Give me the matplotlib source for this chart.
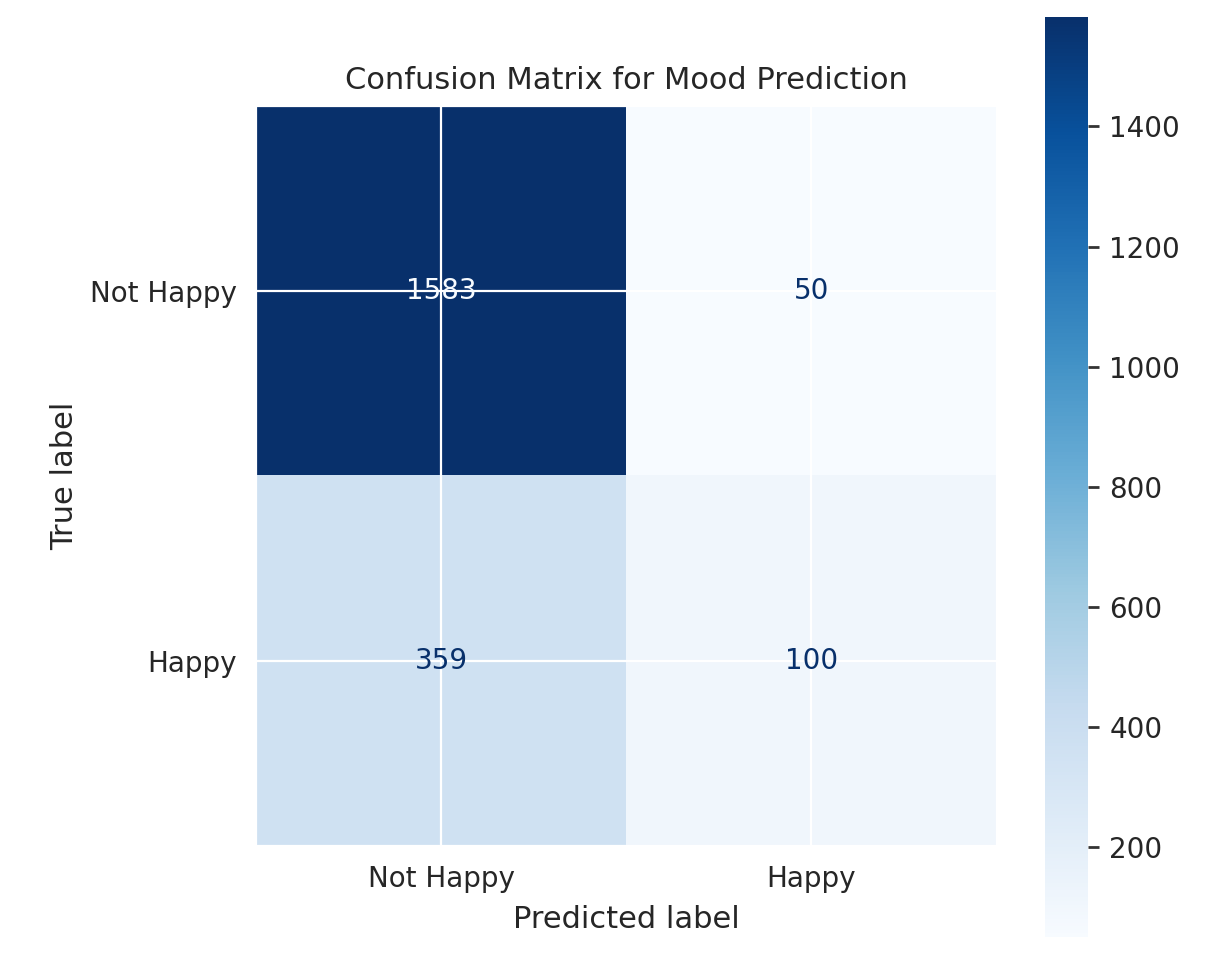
import numpy as np
import matplotlib
matplotlib.use('Agg')
import matplotlib.pyplot as plt
import seaborn as sns

sns.set_style('darkgrid')

labels = ['Not Happy', 'Happy']
cm = np.array([[1583, 50],
               [359, 100]])

fig = plt.figure(figsize=(6.04, 4.87), dpi=200)
ax = fig.add_axes([0.212, 0.129, 0.613, 0.765])
cax = fig.add_axes([0.865, 0.038, 0.036, 0.945])

cmap = plt.cm.Blues
im = ax.imshow(cm, cmap=cmap, interpolation='nearest')
cb = fig.colorbar(im, cax=cax)
cb.outline.set_visible(False)
cb.ax.tick_params(right=True, length=4, width=1, color='#333333', labelsize=10)

thresh = (cm.max() + cm.min()) / 2
for i in range(cm.shape[0]):
    for j in range(cm.shape[1]):
        color = cmap(0) if cm[i, j] > thresh else cmap(1.0)
        ax.text(j, i, str(cm[i, j]), ha='center', va='center', color=color, fontsize=10)

ax.set_xticks(range(len(labels)))
ax.set_xticklabels(labels)
ax.set_yticks(range(len(labels)))
ax.set_yticklabels(labels)
ax.tick_params(labelsize=10)
ax.set_xlabel('Predicted label', fontsize=11)
ax.set_ylabel('True label', fontsize=11)
ax.set_title('Confusion Matrix for Mood Prediction', fontsize=11)
ax.set_ylim(len(labels) - 0.5, -0.5)

fig.savefig('out.png', dpi=200)
